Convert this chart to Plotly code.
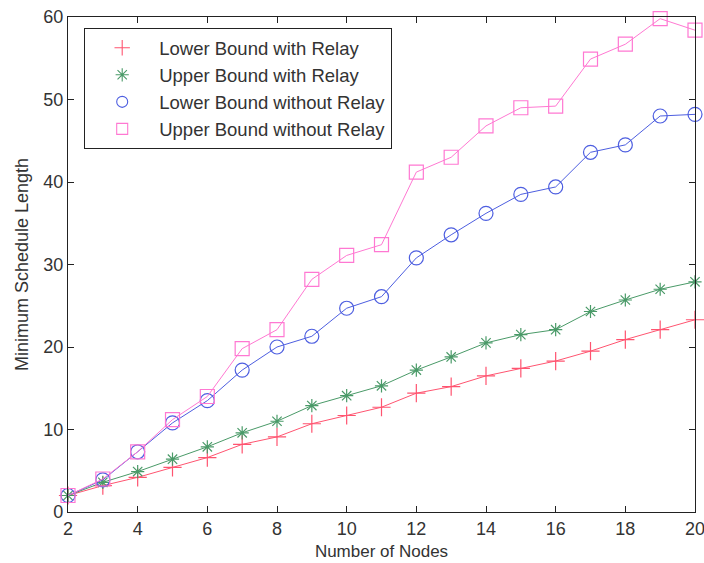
import plotly.graph_objects as go

# Number of nodes in the network
nodes = list(range(2, 21))

# Minimum schedule length for each scheme
lower_with_relay = [2.0, 3.2, 4.2, 5.4, 6.6, 8.2, 9.1, 10.7, 11.7, 12.7,
                    14.4, 15.2, 16.5, 17.4, 18.3, 19.5, 20.9, 22.1, 23.3]
upper_with_relay = [2.0, 3.6, 4.9, 6.4, 7.9, 9.6, 11.0, 12.9, 14.1, 15.3,
                    17.2, 18.8, 20.5, 21.5, 22.1, 24.3, 25.7, 27.0, 27.9]
lower_without_relay = [2.0, 3.9, 7.3, 10.8, 13.5, 17.2, 20.0, 21.3, 24.7, 26.1,
                       30.8, 33.6, 36.2, 38.5, 39.4, 43.6, 44.5, 48.0, 48.2]
upper_without_relay = [2.0, 4.0, 7.3, 11.2, 14.0, 19.8, 22.1, 28.2, 31.1, 32.4,
                       41.2, 43.0, 46.8, 49.0, 49.2, 54.9, 56.7, 59.8, 58.4]

series_names = ["Lower Bound with Relay", "Upper Bound with Relay",
                "Lower Bound without Relay", "Upper Bound without Relay"]
x_ticks = list(range(2, 21, 2))
y_ticks = list(range(0, 61, 10))

styles = [
    dict(color="#ff5470", symbol="cross-thin-open", size=13),
    dict(color="#4a9a68", symbol="asterisk-open", size=11),
    dict(color="#4d5ee0", symbol="circle-open", size=14),
    dict(color="#ff78d2", symbol="square-open", size=14),
]

fig = go.Figure()
all_series = [lower_with_relay, upper_with_relay, lower_without_relay, upper_without_relay]

# Lines with markers on the plot
for name, ys, st in zip(series_names, all_series, styles):
    fig.add_trace(go.Scatter(
        x=nodes, y=ys, mode="lines+markers", name=name, showlegend=False,
        line=dict(color=st["color"], width=1),
        marker=dict(symbol=st["symbol"], size=st["size"], color=st["color"],
                    line=dict(color=st["color"], width=1.2)),
        cliponaxis=False,
    ))

# Marker-only legend entries
for name, st in zip(series_names, styles):
    fig.add_trace(go.Scatter(
        x=[None], y=[None], mode="markers", name=name,
        marker=dict(symbol=st["symbol"], size=11, color=st["color"],
                    line=dict(color=st["color"], width=1.1)),
    ))

axis_common = dict(
    showline=True, linecolor="#222", linewidth=1.2, mirror="ticks",
    ticks="inside", ticklen=6, tickwidth=1.2, tickcolor="#222",
    showgrid=False, zeroline=False, automargin=False,
    tickfont=dict(family="Liberation Sans", size=18, color="#333"),
    ticklabeloverflow="allow",
)

fig.update_layout(
    width=704, height=563,
    margin=dict(l=68, r=9, t=17, b=51, autoexpand=False),
    paper_bgcolor="white", plot_bgcolor="white",
    xaxis=dict(range=[2, 20], tickvals=x_ticks,
               title=dict(text="Number of Nodes", standoff=7,
                          font=dict(family="Liberation Sans", size=17, color="#333")),
               **axis_common),
    yaxis=dict(range=[0, 60], tickvals=y_ticks,
               title=dict(text="Minimum Schedule Length", standoff=9,
                          font=dict(family="Liberation Sans", size=18, color="#333")),
               **axis_common),
    legend=dict(
        x=(84 - 68) / 627, y=(512 - 28) / 495, xanchor="left", yanchor="top",
        bgcolor="white", bordercolor="#222", borderwidth=1.2,
        font=dict(family="Liberation Sans", size=18.5, color="#333"),
        itemwidth=64,
    ),
)

fig.write_html("out.html")
